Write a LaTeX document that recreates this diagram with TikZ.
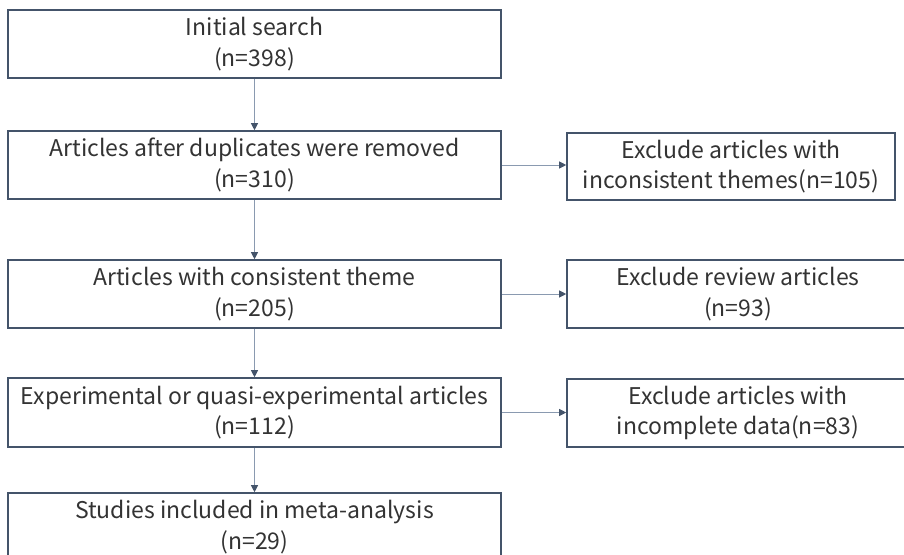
\documentclass[tikz,border=0pt]{standalone}
\usepackage{fontspec}
\setmainfont{Noto Sans CJK SC}
\usetikzlibrary{arrows.meta}
\definecolor{boxline}{HTML}{44546A}
\definecolor{arrline}{HTML}{8A9AB0}
\definecolor{txt}{HTML}{333333}
\tikzset{
  box/.style={draw=boxline, line width=1.6pt, rectangle, inner sep=0pt, align=center,
    text=txt, font=\fontsize{23}{30.5}\selectfont,
    execute at begin node={\rule{0pt}{26pt}}},
  arr/.style={draw=arrline, line width=0.8pt, -{Triangle[length=7pt,width=7pt,color=boxline]}}
}
\begin{document}
\begin{tikzpicture}[x=1pt,y=-1pt]
\useasboundingbox (0,0) rectangle (904,554);
\fill[white] (0,0) rectangle (904,554);
\node[box, minimum width=493pt, minimum height=68pt] (b1) at (254.5,44) {Initial search\\(n=398)};
\node[box, minimum width=493pt, minimum height=68pt] (b2) at (254.5,165) {Articles after duplicates were removed\\(n=310)};
\node[box, minimum width=493pt, minimum height=68pt] (b3) at (254.5,294) {Articles with consistent theme\\(n=205)};
\node[box, minimum width=493pt, minimum height=69pt] (b4) at (254.5,412.5) {Experimental or quasi-experimental articles\\(n=112)};
\node[box, minimum width=493pt, minimum height=68pt] (b5) at (254.5,527) {Studies included in meta-analysis\\(n=29)};
\node[box, minimum width=328pt, minimum height=67pt] (r1) at (731,166.5) {Exclude articles with\\inconsistent themes(n=105)};
\node[box, minimum width=342pt, minimum height=68pt] (r2) at (738,294) {Exclude review articles\\(n=93)};
\node[box, minimum width=342pt, minimum height=68pt] (r3) at (738,413) {Exclude articles with\\incomplete data(n=83)};
\draw[arr] (b1.south) -- (b2.north);
\draw[arr] (b2.south) -- (b3.north);
\draw[arr] (b3.south) -- (b4.north);
\draw[arr] (b4.south) -- (b5.north);
\draw[arr] (b2.east) -- (b2.east -| r1.west);
\draw[arr] (b3.east) -- (b3.east -| r2.west);
\draw[arr] (b4.east) -- (b4.east -| r3.west);
\end{tikzpicture}
\end{document}
